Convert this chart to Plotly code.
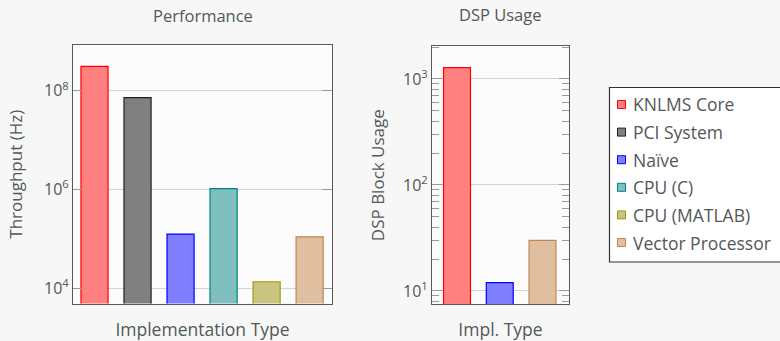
import plotly.graph_objects as go

# Implementations and their measurements
implementations = ["KNLMS Core", "PCI System", "Naïve", "CPU (C)", "CPU (MATLAB)", "Vector Processor"]
throughput_hz = [3.12e8, 7.2e7, 1.24e5, 1.03e6, 1.34e4, 1.09e5]

dsp_implementations = ["KNLMS Core", "Naïve", "Vector Processor"]
dsp_blocks = [1280, 12, 30]

fill_colors = {
    "KNLMS Core": "#ff8080",
    "PCI System": "#808080",
    "Naïve": "#8080ff",
    "CPU (C)": "#80bfbf",
    "CPU (MATLAB)": "#c9c47e",
    "Vector Processor": "#dfbf9f",
}
edge_colors = {
    "KNLMS Core": "#ff0000",
    "PCI System": "#202020",
    "Naïve": "#0000ff",
    "CPU (C)": "#008080",
    "CPU (MATLAB)": "#a09a10",
    "Vector Processor": "#c08850",
}

W, H = 780, 341
FONT = "Open Sans, Lato, sans-serif"
TEXT = "#535858"
BAR_W = 0.63

fig = go.Figure()

for i, name in enumerate(implementations):
    fig.add_trace(go.Bar(
        x=[i], y=[throughput_hz[i]], width=BAR_W, name=name,
        marker=dict(color=fill_colors[name], line=dict(color=edge_colors[name], width=1.2)),
        xaxis="x", yaxis="y", showlegend=False,
    ))

for i, name in enumerate(dsp_implementations):
    fig.add_trace(go.Bar(
        x=[i], y=[dsp_blocks[i]], width=BAR_W, name=name,
        marker=dict(color=fill_colors[name], line=dict(color=edge_colors[name], width=1.2)),
        xaxis="x2", yaxis="y2", showlegend=False,
    ))

# minor tick positions for the DSP log axis: 2..9 within each decade
dsp_minor = [m * 10 ** d for d in range(0, 4) for m in range(2, 10)]

x_common = dict(showline=True, linecolor="#555a5a", linewidth=1.2, mirror=True, zeroline=False)
y_common = dict(showline=True, linecolor="#555a5a", linewidth=1.2, mirror="ticks", zeroline=False)

# Shared legend box at the right, running past the page edge
shapes = [dict(type="rect", xref="paper", yref="paper",
               x0=609.5 / W, x1=1.02, y0=1 - 262 / H, y1=1 - 87.5 / H,
               fillcolor="#ffffff", line=dict(color="#333333", width=1.2), layer="below")]
annotations = [
    dict(text="Performance", x=(73 + 332) / 2 / W, y=1 - 16 / H, xref="paper", yref="paper",
         showarrow=False, font=dict(size=16.5, color=TEXT), xanchor="center", yanchor="middle"),
    dict(text="DSP Usage", x=(432 + 569) / 2 / W, y=1 - 15 / H, xref="paper", yref="paper",
         showarrow=False, font=dict(size=16.5, color=TEXT), xanchor="center", yanchor="middle"),
]
row_top, row_step = 104.5, 27.6
for k, name in enumerate(implementations):
    yc = row_top + k * row_step
    shapes.append(dict(type="rect", xref="paper", yref="paper",
                       x0=617.5 / W, x1=625.5 / W, y0=1 - (yc + 4) / H, y1=1 - (yc - 4) / H,
                       fillcolor=fill_colors[name], line=dict(color=edge_colors[name], width=1)))
    annotations.append(dict(text=name, x=631 / W, y=1 - yc / H, xref="paper", yref="paper",
                            showarrow=False, xanchor="left", yanchor="middle",
                            font=dict(size=17.5, color=TEXT)))

fig.update_layout(
    width=W, height=H,
    margin=dict(l=0, r=0, t=0, b=0, autoexpand=False),
    paper_bgcolor="#f7f7f7",
    plot_bgcolor="#fcfcfc",
    font=dict(family=FONT, color=TEXT, size=14),
    barmode="overlay",
    showlegend=False,
    xaxis=dict(domain=[73 / W, 332 / W], range=[-0.5, 5.52], showticklabels=False, ticks="",
               showgrid=False, anchor="y",
               title=dict(text="Implementation Type", font=dict(size=17.5), standoff=20), **x_common),
    yaxis=dict(domain=[1 - 303.5 / H, 1 - 45 / H], type="log", range=[3.686, 8.926], anchor="x",
               tickvals=[1e4, 1e6, 1e8], ticktext=["10<sup>4</sup>", "10<sup>6</sup>", "10<sup>8</sup>"],
               ticks="inside", ticklen=10, tickcolor="#999", showgrid=True, gridcolor="#d2d2d2", gridwidth=1.2,
               tickfont=dict(size=16),
               title=dict(text="Throughput (Hz)", font=dict(size=17), standoff=17), **y_common),
    xaxis2=dict(domain=[432 / W, 569 / W], range=[-0.585, 2.62], showticklabels=False, ticks="",
                showgrid=False, anchor="y2",
                title=dict(text="Impl. Type", font=dict(size=17.5), standoff=20), **x_common),
    yaxis2=dict(domain=[1 - 304.3 / H, 1 - 46 / H], type="log", range=[0.874, 3.311], anchor="x2",
                tickvals=[10, 100, 1000], ticktext=["10<sup>1</sup>", "10<sup>2</sup>", "10<sup>3</sup>"],
                ticks="inside", ticklen=10, tickcolor="#999", showgrid=True, gridcolor="#d2d2d2", gridwidth=1.2,
                minor=dict(tickmode="array", tickvals=dsp_minor, ticks="inside", ticklen=7,
                           tickcolor="#999", showgrid=False),
                tickfont=dict(size=16),
                title=dict(text="DSP Block Usage", font=dict(size=17), standoff=14), **y_common),
    shapes=shapes,
    annotations=annotations,
)

fig.write_html("out.html")
